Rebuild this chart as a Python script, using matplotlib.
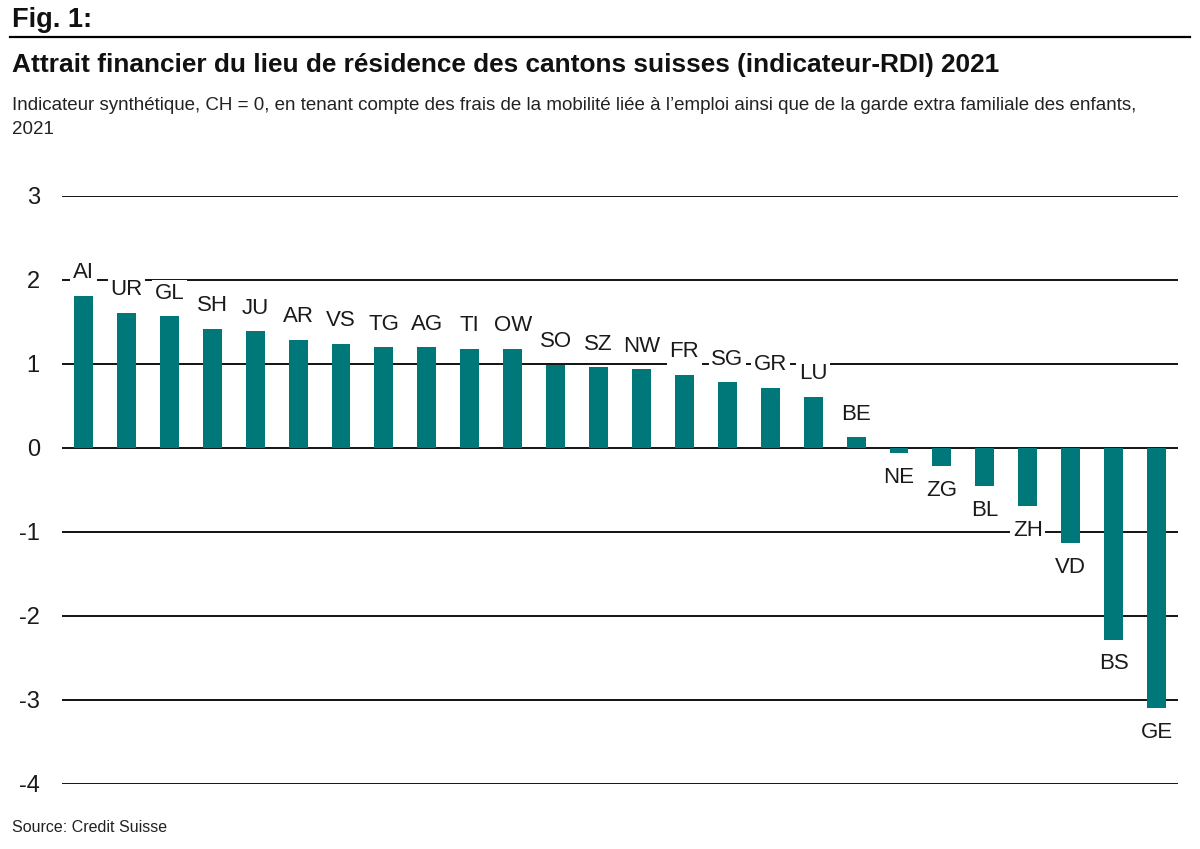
import matplotlib.pyplot as plt

plt.rcParams['font.family'] = ['Liberation Sans', 'DejaVu Sans']

# Données
cantons = ["AI", "UR", "GL", "SH", "JU", "AR", "VS", "TG", "AG", "TI", "OW", "SO", "SZ",
           "NW", "FR", "SG", "GR", "LU", "BE", "NE", "ZG", "BL", "ZH", "VD", "BS", "GE"]
rdi = [1.81, 1.61, 1.57, 1.42, 1.39, 1.29, 1.24, 1.20, 1.20, 1.18, 1.18, 0.99, 0.96,
       0.94, 0.87, 0.78, 0.72, 0.61, 0.13, -0.06, -0.21, -0.45, -0.69, -1.13, -2.28, -3.10]
yticks = [3, 2, 1, 0, -1, -2, -3, -4]

bar_color = "#00787A"

fig = plt.figure(figsize=(12, 8.49), dpi=100)
ax = fig.add_axes([62/1200, 1 - 784/849, (1178 - 62)/1200, (784 - 196)/849])

x = range(len(cantons))
ax.bar(x, rdi, width=0.44, color=bar_color, zorder=2)

for i, (c, v) in enumerate(zip(cantons, rdi)):
    if v >= 0:
        ax.annotate(c, (i, v), xytext=(0, 9), textcoords="offset points",
                    ha="center", va="bottom", fontsize=16, color="#1a1a1a", zorder=3,
                    bbox=dict(boxstyle="square,pad=0.12", fc="white", ec="none"))
    else:
        ax.annotate(c, (i, v), xytext=(0, -10), textcoords="offset points",
                    ha="center", va="top", fontsize=16, color="#1a1a1a", zorder=3,
                    bbox=dict(boxstyle="square,pad=0.12", fc="white", ec="none"))

for t in yticks:
    ax.axhline(t, color="black", lw=1.3, zorder=1)

ax.set_xlim(-0.5, 25.5)
ax.set_ylim(-4, 3)
ax.set_yticks(yticks)
ax.set_yticklabels([str(t) for t in yticks], fontsize=17, color="#1a1a1a")
ax.tick_params(axis="y", length=0, pad=16)
ax.set_xticks([])
for s in ax.spines.values():
    s.set_visible(False)

fig.text(12/1200, 1 - 20/849, "Fig. 1:", fontsize=19.5, fontweight="bold", va="center", color="#111111")
fig.add_artist(plt.Line2D([10/1200, 1190/1200], [1 - 37/849, 1 - 37/849], color="black", lw=1.6))
fig.text(12/1200, 1 - 65/849, "Attrait financier du lieu de résidence des cantons suisses (indicateur-RDI) 2021",
         fontsize=18.9, fontweight="bold", va="center", color="#111111")
fig.text(12/1200, 1 - 106/849,
         "Indicateur synthétique, CH = 0, en tenant compte des frais de la mobilité liée à l\u2019emploi ainsi que de la garde extra familiale des enfants,",
         fontsize=13.5, va="center", color="#222222")
fig.text(12/1200, 1 - 129/849, "2021", fontsize=13.5, va="center", color="#222222")
fig.text(12/1200, 1 - 828/849, "Source: Credit Suisse", fontsize=11.5, va="center", color="#222222")

fig.savefig("out.png", dpi=100)
